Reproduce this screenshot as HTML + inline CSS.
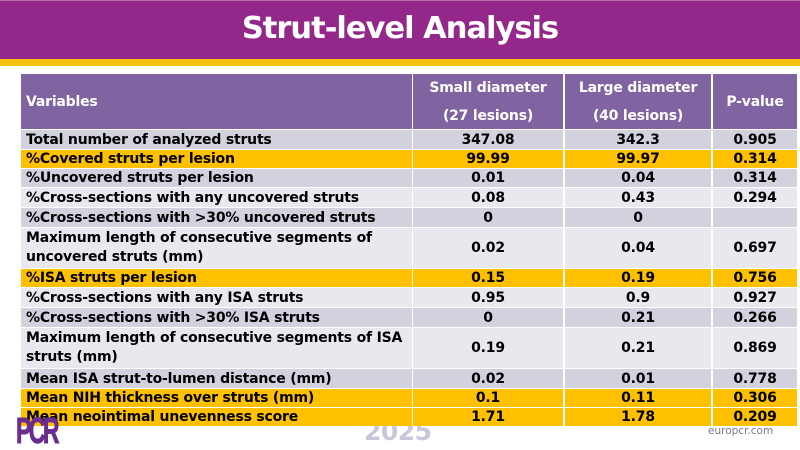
<!DOCTYPE html>
<html><head><meta charset="utf-8">
<style>
*{margin:0;padding:0;box-sizing:border-box}
html,body{width:800px;height:450px;overflow:hidden;background:#fff}
body{position:relative;font-family:"DejaVu Sans","Liberation Sans",sans-serif}
.bar{position:absolute;left:0;top:0;width:800px;height:59px;background:#94278a;border-top:1px solid #b56aa9}
.title{position:absolute;left:0;top:9px;width:800px;text-align:center;color:#fff;font-weight:bold;font-size:30.5px;line-height:40px;letter-spacing:-1px}
.yb{position:absolute;left:0;top:59px;width:800px;height:7px;background:#f6c40e}
.c{position:absolute;font-weight:bold;font-size:14px;color:#000;display:flex;align-items:center;letter-spacing:-0.2px;white-space:nowrap}
.c0{left:21px;width:391px;padding-left:5px;justify-content:flex-start}
.c1{left:413px;width:150px;justify-content:center}
.c2{left:565px;width:146px;justify-content:center}
.c3{left:713px;width:84px;justify-content:center}
.h{background:#8064a2;color:#fff}
.d{background:#d4d1df}
.l{background:#e9e8ef}
.y{background:#ffc000}
.two{white-space:normal;line-height:19px;align-items:center}
.hd{flex-direction:column;line-height:28px;text-align:center}
.y25{position:absolute;left:364px;top:417px;font-size:25px;font-weight:bold;color:#cbc5da;font-family:"DejaVu Sans",sans-serif;letter-spacing:-0.5px}
.pcr{position:absolute;left:16px;top:413px;font-family:"Liberation Sans",sans-serif;font-weight:bold;font-size:36px;color:#6a2c8e;transform:scaleX(0.64);transform-origin:left top;letter-spacing:-4px;line-height:36px;-webkit-text-stroke:1px #6a2c8e}
.eu{position:absolute;left:708px;top:425px;font-size:10.5px;color:#777788;font-family:"DejaVu Sans",sans-serif}
</style></head><body>
<div class="bar"></div>
<div class="title">Strut-level Analysis</div>
<div class="yb"></div>

<div class="y25">2025</div>

<!-- header -->
<div class="c c0 h" style="top:74px;height:55px;padding-left:5px">Variables</div>
<div class="c c1 h hd" style="top:74px;height:55px"><span>Small diameter</span><span>(27 lesions)</span></div>
<div class="c c2 h hd" style="top:74px;height:55px"><span>Large diameter</span><span>(40 lesions)</span></div>
<div class="c c3 h" style="top:74px;height:55px">P-value</div>

<!-- r1 -->
<div class="c c0 d" style="top:130px;height:19px">Total number of analyzed struts</div>
<div class="c c1 d" style="top:130px;height:19px">347.08</div>
<div class="c c2 d" style="top:130px;height:19px">342.3</div>
<div class="c c3 d" style="top:130px;height:19px">0.905</div>
<!-- r2 -->
<div class="c c0 y" style="top:150px;height:18px">%Covered struts per lesion</div>
<div class="c c1 y" style="top:150px;height:18px">99.99</div>
<div class="c c2 y" style="top:150px;height:18px">99.97</div>
<div class="c c3 y" style="top:150px;height:18px">0.314</div>
<!-- r3 -->
<div class="c c0 d" style="top:169px;height:18px">%Uncovered struts per lesion</div>
<div class="c c1 d" style="top:169px;height:18px">0.01</div>
<div class="c c2 d" style="top:169px;height:18px">0.04</div>
<div class="c c3 d" style="top:169px;height:18px">0.314</div>
<!-- r4 -->
<div class="c c0 l" style="top:188px;height:19px">%Cross-sections with any uncovered struts</div>
<div class="c c1 l" style="top:188px;height:19px">0.08</div>
<div class="c c2 l" style="top:188px;height:19px">0.43</div>
<div class="c c3 l" style="top:188px;height:19px">0.294</div>
<!-- r5 -->
<div class="c c0 d" style="top:208px;height:19px">%Cross-sections with &gt;30% uncovered struts</div>
<div class="c c1 d" style="top:208px;height:19px">0</div>
<div class="c c2 d" style="top:208px;height:19px">0</div>
<div class="c c3 d" style="top:208px;height:19px"></div>
<!-- r6 -->
<div class="c c0 l two" style="top:228px;height:40px">Maximum length of consecutive segments of<br>uncovered struts (mm)</div>
<div class="c c1 l" style="top:228px;height:40px">0.02</div>
<div class="c c2 l" style="top:228px;height:40px">0.04</div>
<div class="c c3 l" style="top:228px;height:40px">0.697</div>
<!-- r7 -->
<div class="c c0 y" style="top:269px;height:18px">%ISA struts per lesion</div>
<div class="c c1 y" style="top:269px;height:18px">0.15</div>
<div class="c c2 y" style="top:269px;height:18px">0.19</div>
<div class="c c3 y" style="top:269px;height:18px">0.756</div>
<!-- r8 -->
<div class="c c0 l" style="top:288px;height:19px">%Cross-sections with any ISA struts</div>
<div class="c c1 l" style="top:288px;height:19px">0.95</div>
<div class="c c2 l" style="top:288px;height:19px">0.9</div>
<div class="c c3 l" style="top:288px;height:19px">0.927</div>
<!-- r9 -->
<div class="c c0 d" style="top:308px;height:19px">%Cross-sections with &gt;30% ISA struts</div>
<div class="c c1 d" style="top:308px;height:19px">0</div>
<div class="c c2 d" style="top:308px;height:19px">0.21</div>
<div class="c c3 d" style="top:308px;height:19px">0.266</div>
<!-- r10 -->
<div class="c c0 l two" style="top:328px;height:40px">Maximum length of consecutive segments of ISA<br>struts (mm)</div>
<div class="c c1 l" style="top:328px;height:40px">0.19</div>
<div class="c c2 l" style="top:328px;height:40px">0.21</div>
<div class="c c3 l" style="top:328px;height:40px">0.869</div>
<!-- r11 -->
<div class="c c0 d" style="top:369px;height:19px">Mean ISA strut-to-lumen distance (mm)</div>
<div class="c c1 d" style="top:369px;height:19px">0.02</div>
<div class="c c2 d" style="top:369px;height:19px">0.01</div>
<div class="c c3 d" style="top:369px;height:19px">0.778</div>
<!-- r12 -->
<div class="c c0 y" style="top:389px;height:18px">Mean NIH thickness over struts (mm)</div>
<div class="c c1 y" style="top:389px;height:18px">0.1</div>
<div class="c c2 y" style="top:389px;height:18px">0.11</div>
<div class="c c3 y" style="top:389px;height:18px">0.306</div>
<!-- r13 -->
<div class="c c0 y" style="top:408px;height:18px">Mean neointimal unevenness score</div>
<div class="c c1 y" style="top:408px;height:18px">1.71</div>
<div class="c c2 y" style="top:408px;height:18px">1.78</div>
<div class="c c3 y" style="top:408px;height:18px">0.209</div>

<div class="pcr">PCR</div>
<div class="eu">europcr.com</div>
</body></html>
